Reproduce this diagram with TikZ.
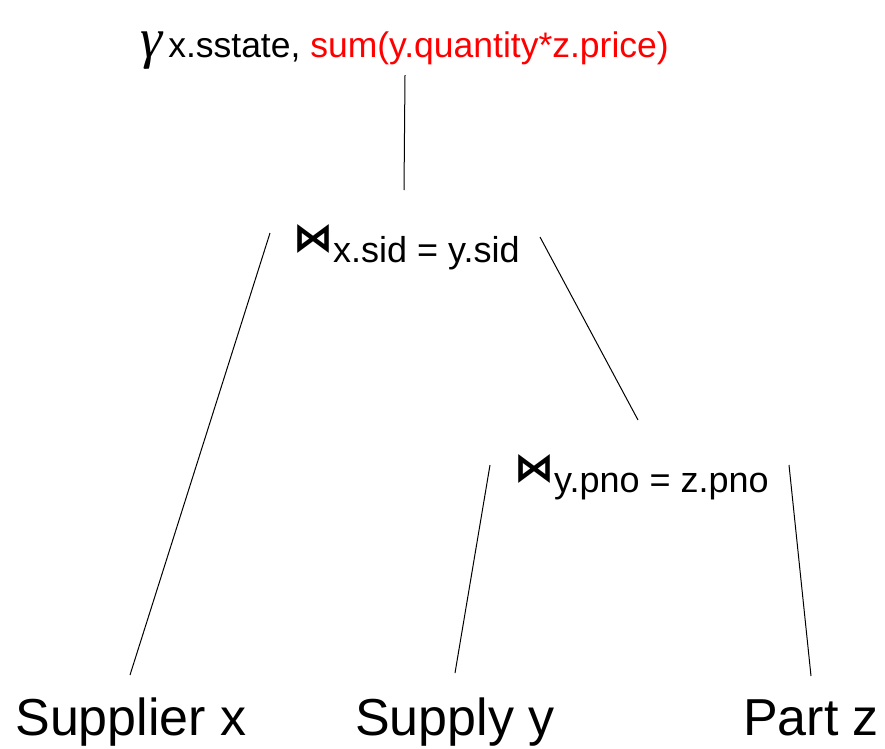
\documentclass[tikz,border=0pt]{standalone}
\usepackage{fontspec}
\setmainfont{Liberation Sans}
\newfontfamily\bowfont{DejaVu Sans}
\newfontfamily\gamfont{Liberation Serif}
\usetikzlibrary{positioning}

\begin{document}
\begin{tikzpicture}[
  x=1pt,y=-1pt,
  txt/.style={inner sep=0pt,anchor=base west},
  leaf/.style={inner sep=0pt,anchor=base,font=\fontsize{52}{60}\selectfont},
  sub/.style={font=\fontsize{36}{42}\selectfont},
  edge/.style={line width=1pt}
]
\useasboundingbox (0,0) rectangle (885,748);

% operators
\node[txt,font=\fontsize{35.5}{42}\selectfont] (agg) at (140,57)
  {{\gamfont\itshape\fontsize{56}{60}\selectfont γ}\hspace{6pt}x.sstate,
   \textcolor{red}{sum(y.quantity*z.price)}};
\node[txt,sub] (j1) at (293,262)
  {\raisebox{11pt}{\bowfont\bfseries\fontsize{40}{42}\selectfont ⋈}x.sid = y.sid};
\node[txt,sub] (j2) at (514,492)
  {\raisebox{11pt}{\bowfont\bfseries\fontsize{40}{42}\selectfont ⋈}y.pno = z.pno};

% relations
\node[leaf] (sx) at (131,735) {Supplier x};
\node[leaf] (sy) at (455,735) {Supply y};
\node[leaf] (pz) at (811,735) {Part z};

% line ends
\coordinate (agg-b) at (405,75);
\coordinate (j1-t) at (404,190);
\coordinate (j1-l) at (270,233);
\coordinate (j1-r) at (540,237);
\coordinate (j2-t) at (638,420);
\coordinate (j2-l) at (490,465);
\coordinate (j2-r) at (789,465);
\coordinate (sx-t) at (130,675);
\coordinate (sy-t) at (455,673);
\coordinate (pz-t) at (811,676);

\draw[edge] (agg-b) -- (j1-t);
\draw[edge] (j1-l) -- (sx-t);
\draw[edge] (j1-r) -- (j2-t);
\draw[edge] (j2-l) -- (sy-t);
\draw[edge] (j2-r) -- (pz-t);
\end{tikzpicture}
\end{document}
